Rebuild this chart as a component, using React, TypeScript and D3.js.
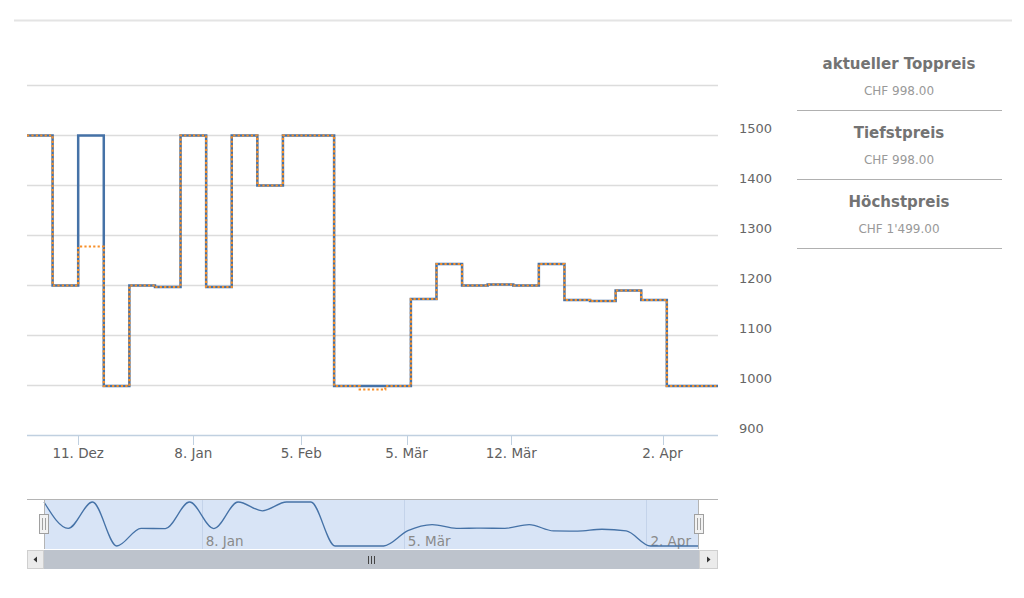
import React, { useLayoutEffect, useRef } from 'react';
import * as d3 from 'd3';

// price history, one point per scrape date (ordinal x axis)
const dates = [
  '2017-11-27T00:00', '2017-12-04T00:00', '2017-12-11T00:00', '2017-12-18T00:00',
  '2017-12-25T00:00', '2018-01-01T00:00', '2018-01-05T00:00', '2018-01-11T00:00',
  '2018-01-15T00:00', '2018-01-22T00:00', '2018-01-31T00:00', '2018-02-07T00:00',
  '2018-02-14T00:00', '2018-02-21T00:00', '2018-02-28T00:00', '2018-03-06T00:00',
  '2018-03-07T00:00', '2018-03-09T00:00', '2018-03-11T00:00', '2018-03-12T02:00',
  '2018-03-15T00:00', '2018-03-19T00:00', '2018-03-22T00:00', '2018-03-26T00:00',
  '2018-03-28T00:00', '2018-04-03T00:00', '2018-04-06T00:00', '2018-04-09T00:00',
];
const topPrice = [
  1499, 1199, 1499, 998, 1199, 1196, 1499, 1196, 1499, 1399, 1499, 1499, 998, 998,
  998, 1172, 1242, 1199, 1201, 1199, 1242, 1170, 1168, 1189, 1170, 998, 998, 998,
];
const avgPrice = [
  1499, 1199, 1277, 998, 1199, 1196, 1499, 1196, 1499, 1399, 1499, 1499, 998, 991,
  998, 1172, 1242, 1199, 1201, 1199, 1242, 1170, 1168, 1189, 1170, 998, 998, 998,
];
const xTicks = ['2017-12-11T00:00', '2018-01-08T00:00', '2018-02-05T00:00', '2018-03-05T00:00', '2018-03-12T00:00', '2018-04-02T00:00'];
const navTicks = ['2018-01-08T00:00', '2018-03-05T00:00', '2018-04-02T00:00'];
const yTicks = [900, 1000, 1100, 1200, 1300, 1400, 1500, 1600];
const panelTitles = ['aktueller Toppreis', 'Tiefstpreis', 'Höchstpreis'];
const panelValues = ['CHF 998.00', 'CHF 998.00', "CHF 1'499.00"];

const font = '"DejaVu Sans", Verdana, sans-serif';
const blue = '#4572a7';
const orange = '#f7902a';

const de = d3.timeFormatLocale({
  dateTime: '%A, %e. %B %Y, %X',
  date: '%d.%m.%Y',
  time: '%H:%M:%S',
  periods: ['AM', 'PM'],
  days: ['Sonntag', 'Montag', 'Dienstag', 'Mittwoch', 'Donnerstag', 'Freitag', 'Samstag'],
  shortDays: ['So', 'Mo', 'Di', 'Mi', 'Do', 'Fr', 'Sa'],
  months: ['Januar', 'Februar', 'März', 'April', 'Mai', 'Juni', 'Juli', 'August', 'September', 'Oktober', 'November', 'Dezember'],
  shortMonths: ['Jan', 'Feb', 'Mär', 'Apr', 'Mai', 'Jun', 'Jul', 'Aug', 'Sep', 'Okt', 'Nov', 'Dez'],
});
const fmt = de.utcFormat('%-d. %b');
const parse = d3.utcParse('%Y-%m-%dT%H:%M');

const drawChart = (container: SVGSVGElement) => {
  const svg = d3.select(container);
  svg.selectAll('*').remove();

  const times = dates.map((d) => parse(d) as Date);
  const idx = d3.range(times.length);

  // main plot
  const plot = { left: 27, right: 718, top: 85, bottom: 435 };
  const x = d3.scaleLinear().domain([0, times.length - 1]).range([plot.left, plot.right]);
  const xTime = d3.scaleUtc().domain(times).range(idx.map((i) => x(i)));
  const y = d3.scaleLinear().domain([900, 1600]).range([plot.bottom, plot.top]);

  svg
    .append('line')
    .attr('x1', 14).attr('x2', 1012).attr('y1', 20.5).attr('y2', 20.5)
    .attr('stroke', '#e4e4e4').attr('stroke-width', 2);

  const grid = svg.append('g');
  grid
    .selectAll('line')
    .data(yTicks.filter((t) => t > 900))
    .enter()
    .append('line')
    .attr('x1', plot.left).attr('x2', plot.right)
    .attr('y1', (d) => Math.round(y(d)) + 0.5).attr('y2', (d) => Math.round(y(d)) + 0.5)
    .attr('stroke', '#dcdcdc').attr('stroke-width', 1.3);

  svg
    .append('g')
    .selectAll('text')
    .data(yTicks.filter((t) => t < 1600))
    .enter()
    .append('text')
    .attr('x', 739).attr('y', (d) => y(d) - 2.5)
    .attr('font-family', font).attr('font-size', 13).attr('fill', '#666666')
    .text((d) => d);

  // x axis
  const xAxisG = svg.append('g');
  xAxisG
    .append('line')
    .attr('x1', plot.left).attr('x2', plot.right)
    .attr('y1', plot.bottom + 0.5).attr('y2', plot.bottom + 0.5)
    .attr('stroke', '#c0d0e0').attr('stroke-width', 1.5);
  const tickDates = xTicks.map((d) => parse(d) as Date);
  xAxisG
    .selectAll('.tick')
    .data(tickDates)
    .enter()
    .append('line')
    .attr('x1', (d) => Math.round(xTime(d)) + 0.5).attr('x2', (d) => Math.round(xTime(d)) + 0.5)
    .attr('y1', plot.bottom).attr('y2', plot.bottom + 10)
    .attr('stroke', '#c0d0e0').attr('stroke-width', 1);
  xAxisG
    .selectAll('text')
    .data(tickDates)
    .enter()
    .append('text')
    .attr('x', (d) => xTime(d)).attr('y', 458)
    .attr('text-anchor', 'middle')
    .attr('font-family', font).attr('font-size', 13.5).attr('fill', '#606060')
    .text((d) => fmt(d));

  const step = d3
    .line<number>()
    .x((_, i) => x(i))
    .y((d) => y(d))
    .curve(d3.curveStepAfter);

  svg
    .append('path')
    .attr('d', step(topPrice))
    .attr('fill', 'none').attr('stroke', blue).attr('stroke-width', 2.5);
  svg
    .append('path')
    .attr('d', step(avgPrice))
    .attr('fill', 'none').attr('stroke', orange).attr('stroke-width', 2.2)
    .attr('stroke-dasharray', '2.2,2.2');

  // navigator
  const nav = { left: 44, right: 699, top: 499, bottom: 549 };
  const nx = d3.scaleLinear().domain([0, times.length - 1]).range([nav.left, nav.right]);
  const nxTime = d3.scaleUtc().domain(times).range(idx.map((i) => nx(i)));
  const ny = d3
    .scaleLinear()
    .domain(d3.extent(topPrice) as [number, number])
    .range([546, 502]);

  svg
    .append('rect')
    .attr('x', nav.left).attr('y', nav.top)
    .attr('width', nav.right - nav.left).attr('height', nav.bottom - nav.top)
    .attr('fill', '#d8e4f6');
  const navTickDates = navTicks.map((d) => parse(d) as Date);
  svg
    .append('g')
    .selectAll('line')
    .data(navTickDates)
    .enter()
    .append('line')
    .attr('x1', (d) => Math.round(nxTime(d)) + 0.5).attr('x2', (d) => Math.round(nxTime(d)) + 0.5)
    .attr('y1', nav.top).attr('y2', nav.bottom)
    .attr('stroke', '#c4d3ea').attr('stroke-width', 1);
  svg
    .append('g')
    .selectAll('text')
    .data(navTickDates)
    .enter()
    .append('text')
    .attr('x', (d) => nxTime(d) + 4).attr('y', 546)
    .attr('font-family', font).attr('font-size', 13.5).attr('fill', '#8a8a8a')
    .text((d) => fmt(d));

  const spline = d3
    .line<number>()
    .x((_, i) => nx(i))
    .y((d) => ny(d))
    .curve(d3.curveMonotoneX);
  svg
    .append('path')
    .attr('d', spline(topPrice))
    .attr('fill', 'none').attr('stroke', blue).attr('stroke-width', 1.3);

  svg
    .append('path')
    .attr('d', `M${plot.left},${nav.top + 0.5}H${plot.right}M${nav.left + 0.5},${nav.top}V${nav.bottom}M${nav.right - 0.5},${nav.top}V${nav.bottom}`)
    .attr('fill', 'none').attr('stroke', '#b4b4b4').attr('stroke-width', 1);

  [nav.left, nav.right].forEach((hx) => {
    const h = svg.append('g');
    h.append('rect')
      .attr('x', hx - 4.5).attr('y', 514.5).attr('width', 9).attr('height', 19)
      .attr('fill', '#f2f2f2').attr('stroke', '#a0a0a0');
    h.append('path')
      .attr('d', `M${hx - 1.5},518V530M${hx + 1.5},518V530`)
      .attr('stroke', '#a0a0a0').attr('stroke-width', 1);
  });

  // scrollbar
  const sb = { top: 550, height: 19 };
  svg
    .append('rect')
    .attr('x', plot.left).attr('y', sb.top)
    .attr('width', plot.right - plot.left).attr('height', sb.height)
    .attr('fill', '#eeeeee');
  svg
    .append('rect')
    .attr('x', nav.left).attr('y', sb.top)
    .attr('width', nav.right - nav.left).attr('height', sb.height)
    .attr('fill', '#bdc3cc');
  [
    [plot.left, nav.left, -1],
    [nav.right, plot.right, 1],
  ].forEach(([a, b, dir]) => {
    svg
      .append('rect')
      .attr('x', a + 0.5).attr('y', sb.top + 0.5)
      .attr('width', b - a - 1).attr('height', sb.height - 1)
      .attr('fill', '#ebebeb').attr('stroke', '#cfcfcf');
    const cx = (a + b) / 2;
    const cy = sb.top + sb.height / 2;
    svg
      .append('path')
      .attr('d', `M${cx - 1.5 * dir},${cy - 3}L${cx + 2 * dir},${cy}L${cx - 1.5 * dir},${cy + 3}Z`)
      .attr('fill', '#333');
  });
  const mid = Math.round((nav.left + nav.right) / 2);
  svg
    .append('path')
    .attr('d', `M${mid - 3.5},556V564M${mid - 0.5},556V564M${mid + 2.5},556V564`)
    .attr('stroke', '#444').attr('stroke-width', 1);

  // info panel
  const panel = svg.append('g');
  panelTitles.forEach((t, i) => {
    const top = 40 + i * 69;
    panel
      .append('text')
      .attr('x', 899).attr('y', top + 29)
      .attr('text-anchor', 'middle')
      .attr('font-family', font).attr('font-size', 15).attr('font-weight', 'bold')
      .attr('fill', '#737373')
      .text(t);
    panel
      .append('text')
      .attr('x', 899).attr('y', top + 55)
      .attr('text-anchor', 'middle')
      .attr('font-family', font).attr('font-size', 12).attr('fill', '#999999')
      .text(panelValues[i]);
    panel
      .append('line')
      .attr('x1', 797).attr('x2', 1002)
      .attr('y1', top + 70.5).attr('y2', top + 70.5)
      .attr('stroke', '#b0b0b0').attr('stroke-width', 1.2);
  });
};

export default function App() {
  const ref = useRef<SVGSVGElement>(null);

  useLayoutEffect(() => {
    if (ref.current) drawChart(ref.current);
  }, []);

  return (
    <svg
      ref={ref}
      width={1024}
      height={598}
      style={{ position: 'absolute', left: 0, top: 0, background: '#fff' }}
    />
  );
}
